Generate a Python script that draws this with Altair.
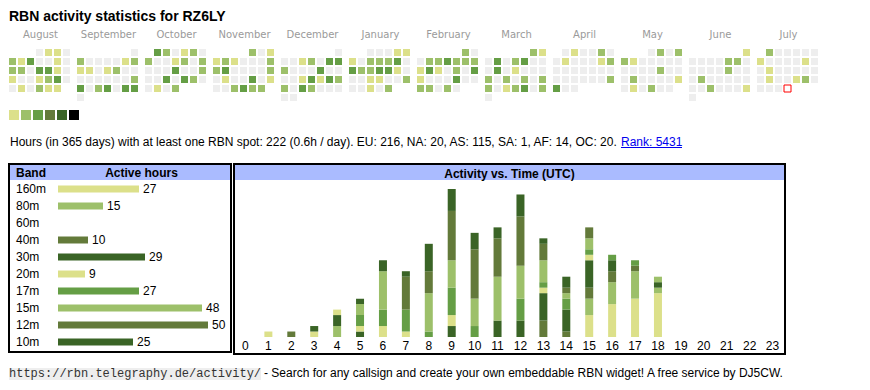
import datetime as dt
import altair as alt
import pandas as pd

# ---------------- data ----------------
title_text = "RBN activity statistics for RZ6LY"

months = ["August", "September", "October", "November", "December", "January",
          "February", "March", "April", "May", "June", "July"]
month_years = [2024, 2024, 2024, 2024, 2024, 2025, 2025, 2025, 2025, 2025, 2025, 2025]
month_numbers = [8, 9, 10, 11, 12, 1, 2, 3, 4, 5, 6, 7]

# daily activity level per month (0 = none, 1..3 = increasing activity), week rows
lv_aug = "0110" "2130010" "2203310" "1001230" "010211"
lv_sep = "0" "2000012" "1101200" "0000002" "3023033" "0"
lv_oct = "320120" "2001202" "0003002" "0030320" "0102"
lv_nov = "201" "1210002" "2300002" "0100301" "002322"
lv_dec = "0" "0012033" "2000300" "0013132" "2032000" "00"
lv_jan = "00011" "1022230" "3223310" "0011002" "00102"
lv_feb = "20" "0223222" "1310203" "1000300" "22020"
lv_mar = "21" "0302300" "0301000" "2020202" "2012302" "0"
lv_apr = "010020" "0100012" "0000000" "0000002" "300"
lv_may = "0202" "2100000" "0000200" "0200001" "010200"
lv_jun = "1" "0000220" "0000200" "0200000" "0020001" "0"
lv_jul = "200000" "1000010" "0100000" "0100120" "0000"
today = dt.date(2025, 7, 31)

level_keys = ["0", "1", "2", "3"]
level_colors = ["#eeeeee", "#dce08a", "#9dc06a", "#659e45"]
legend_levels = [1, 2, 3, 4, 5, 6]
legend_colors = ["#dce08a", "#9dc06a", "#659e45", "#637a3a", "#3a6426", "#000000"]

summary_text = ("Hours (in 365 days) with at least one RBN spot: 222 (0.6h / day). "
                "EU: 216, NA: 20, AS: 115, SA: 1, AF: 14, OC: 20.")
rank_text = "Rank: 5431"

bands = ["160m", "80m", "60m", "40m", "30m", "20m", "17m", "15m", "12m", "10m"]
band_hours = [27, 15, 0, 10, 29, 9, 27, 48, 50, 25]
band_colors = ["#dce08a", "#9dc06a", "#659e45", "#637a3a", "#3a6426",
               "#dce08a", "#659e45", "#9dc06a", "#637a3a", "#3a6426"]

hours = list(range(24))
h160 = [0, 1, 0, 1, 0, 0, 0, 0, 0, 0, 0, 0, 0, 0, 0, 4, 6, 7, 8, 0, 0, 0, 0, 0]
h80 = [0, 0, 0, 0, 2, 0, 0, 0, 0, 0, 0, 0, 0, 0, 0, 3, 4, 5, 1, 0, 0, 0, 0, 0]
h60 = [0, 0, 0, 0, 0, 0, 0, 0, 0, 0, 0, 0, 0, 0, 0, 0, 0, 0, 0, 0, 0, 0, 0, 0]
h40 = [0, 0, 1, 0, 0, 0, 0, 0, 0, 0, 0, 0, 0, 3, 1, 2, 2, 1, 0, 0, 0, 0, 0, 0]
h30 = [0, 0, 0, 1, 2, 1, 0, 0, 0, 2, 0, 3, 3, 5, 4, 5, 2, 0, 1, 0, 0, 0, 0, 0]
h20 = [0, 0, 0, 0, 1, 1, 2, 1, 0, 2, 0, 0, 0, 1, 0, 1, 0, 0, 0, 0, 0, 0, 0, 0]
h17 = [0, 0, 0, 0, 0, 2, 3, 4, 1, 5, 2, 0, 4, 1, 2, 1, 1, 1, 0, 0, 0, 0, 0, 0]
h15 = [0, 0, 0, 0, 0, 2, 7, 0, 7, 5, 5, 8, 6, 4, 1, 2, 0, 0, 1, 0, 0, 0, 0, 0]
h12 = [0, 0, 0, 0, 0, 0, 0, 6, 4, 9, 9, 7, 9, 3, 1, 2, 0, 0, 0, 0, 0, 0, 0, 0]
h10 = [0, 0, 0, 0, 0, 1, 2, 1, 5, 4, 3, 2, 4, 1, 2, 0, 0, 0, 0, 0, 0, 0, 0, 0]
hourly = [h160, h80, h60, h40, h30, h20, h17, h15, h12, h10]

footer_url = "https://rbn.telegraphy.de/activity/"
footer_text = "- Search for any callsign and create your own embeddable RBN widget! A free service by DJ5CW."

# ---------------- tables ----------------
FONT = "Liberation Sans"
month_levels = [lv_aug, lv_sep, lv_oct, lv_nov, lv_dec, lv_jan,
                lv_feb, lv_mar, lv_apr, lv_may, lv_jun, lv_jul]
cal_rows = []
for mi, (name, yy, mm, s) in enumerate(zip(months, month_years, month_numbers, month_levels)):
    off = dt.date(yy, mm, 1).weekday()
    for d, ch in enumerate(s, start=1):
        date = dt.date(yy, mm, d)
        cal_rows.append(dict(mi=mi, month=name, col=date.weekday(), row=(d - 1 + off) // 7,
                             lvl=ch, today=(date == today)))
cal_df = pd.DataFrame(cal_rows)
month_df = pd.DataFrame({"mi": list(range(len(months))), "month": months})

band_df = pd.DataFrame({"band": bands, "hours": band_hours, "bi": list(range(len(bands)))})
act_rows = []
for bi, (b, vals) in enumerate(zip(bands, hourly)):
    for h, v in zip(hours, vals):
        if v > 0:
            act_rows.append(dict(band=b, bi=bi, hour=h, hours=v))
act_df = pd.DataFrame(act_rows)
hour_df = pd.DataFrame({"hour": hours})
one = pd.DataFrame({"a": [0]})

# ---------------- title ----------------
title_chart = alt.Chart(pd.DataFrame({"t": [title_text]})).mark_text(
    font=FONT, fontSize=14, fontWeight="bold", align="left", baseline="alphabetic", color="black"
).encode(x=alt.value(0), y=alt.value(13), text="t:N").properties(width=776, height=16)

# ---------------- month labels ----------------
month_labels = alt.Chart(month_df).mark_text(
    font="DejaVu Sans", fontSize=10, color="#9a9a9a", baseline="middle", align="center"
).encode(
    x=alt.X("mi:O", axis=None,
            scale=alt.Scale(domain=list(range(12)), range=[-2.5, 813.5], paddingInner=0, paddingOuter=0)),
    y=alt.value(11),
    text="month:N",
).properties(width=811, height=25)

# ---------------- calendar ----------------
cx = alt.X("col:O", axis=None,
           scale=alt.Scale(domain=list(range(7)), paddingInner=2 / 9, paddingOuter=1 / 9, align=0))
cy = alt.Y("row:O", axis=None,
           scale=alt.Scale(domain=list(range(6)), paddingInner=2 / 9, paddingOuter=1 / 9, align=0))
cells = alt.Chart().mark_rect().encode(
    x=cx, y=cy,
    color=alt.Color("lvl:N", scale=alt.Scale(domain=level_keys, range=level_colors), legend=None),
)
today_cell = alt.Chart().transform_filter("datum.today").mark_rect(
    fill="white", stroke="#ff0000", strokeWidth=1
).encode(x=cx, y=cy)

calendar = alt.layer(cells, today_cell, data=cal_df).properties(
    width=63, height=54
).facet(
    column=alt.Column("mi:O", title=None, header=alt.Header(labels=False)),
    spacing=5,
)

# ---------------- legend + summary line ----------------
leg_df = pd.DataFrame({"lv": legend_levels})
legend = alt.Chart(leg_df).mark_rect().encode(
    x=alt.X("lv:O", axis=None,
            scale=alt.Scale(domain=legend_levels, range=[0, 72], paddingInner=2 / 12,
                            paddingOuter=1 / 12, align=0)),
    y=alt.value(7), y2=alt.value(17),
    color=alt.Color("lv:O", scale=alt.Scale(domain=legend_levels, range=legend_colors), legend=None),
)
summary = alt.Chart(pd.DataFrame({"t": [summary_text]})).mark_text(
    font=FONT, fontSize=12, align="left", baseline="alphabetic", color="black"
).encode(x=alt.value(1), y=alt.value(43), text="t:N")
rank = alt.Chart(pd.DataFrame({"t": [rank_text]})).mark_text(
    font=FONT, fontSize=12, align="left", baseline="alphabetic", color="#0000ee"
).encode(x=alt.value(612), y=alt.value(43), text="t:N")
rank_ul = alt.Chart(one).mark_rule(color="#0000ee", strokeWidth=1).encode(
    x=alt.value(612), x2=alt.value(673), y=alt.value(44.5))
middle = alt.layer(legend, summary, rank, rank_ul).properties(width=776, height=60)

# ---------------- band table ----------------
BW, BH = 222, 188
by = alt.Y("band:N", axis=None, sort=bands,
           scale=alt.Scale(domain=bands, range=[16.5, 186.5], paddingInner=0, paddingOuter=0))
bx = alt.X("hours:Q", axis=None, scale=alt.Scale(domain=[0, 50], range=[49, 199], nice=False))
b_head = alt.Chart(one).mark_rect(color="#aabbff").encode(
    x=alt.value(1), x2=alt.value(BW - 1), y=alt.value(1), y2=alt.value(16))
b_head_t1 = alt.Chart(pd.DataFrame({"t": ["Band"]})).mark_text(
    font=FONT, fontSize=12, fontWeight="bold", align="left", baseline="middle"
).encode(x=alt.value(7), y=alt.value(9), text="t:N")
b_head_t2 = alt.Chart(pd.DataFrame({"t": ["Active hours"]})).mark_text(
    font=FONT, fontSize=12, fontWeight="bold", align="center", baseline="middle"
).encode(x=alt.value(132.5), y=alt.value(9), text="t:N")
b_lbl = alt.Chart(band_df).mark_text(font=FONT, fontSize=12, align="left", baseline="middle").encode(
    x=alt.value(7), y=by, text="band:N")
b_bar = alt.Chart(band_df).transform_filter("datum.hours > 0").mark_bar(size=7).encode(
    x=bx, y=by,
    color=alt.Color("band:N", scale=alt.Scale(domain=bands, range=band_colors), legend=None))
b_val = alt.Chart(band_df).transform_filter("datum.hours > 0").mark_text(
    font=FONT, fontSize=12, align="left", baseline="middle", dx=4).encode(
    x=bx, y=by, text="hours:Q")
band_panel = alt.layer(b_head, b_head_t1, b_head_t2, b_lbl, b_bar, b_val).properties(
    width=BW, height=BH, view=alt.ViewBackground(stroke="black", strokeWidth=2))

# ---------------- activity vs time ----------------
AW, AH = 551, 190
ax = alt.X("hour:O", axis=None,
           scale=alt.Scale(domain=hours, range=[0, 550], paddingInner=0, paddingOuter=0))
a_head = alt.Chart(one).mark_rect(color="#aabbff").encode(
    x=alt.value(1), x2=alt.value(AW - 1), y=alt.value(1), y2=alt.value(16))
a_head_t = alt.Chart(pd.DataFrame({"t": ["Activity vs. Time (UTC)"]})).mark_text(
    font=FONT, fontSize=12, fontWeight="bold", align="center", baseline="middle"
).encode(x=alt.value(AW / 2), y=alt.value(9.5), text="t:N")
a_bar = alt.Chart(act_df).mark_bar(size=8).encode(
    x=ax,
    y=alt.Y("hours:Q", stack="zero", axis=None,
            scale=alt.Scale(domain=[0, 27], range=[173, 25], nice=False)),
    color=alt.Color("band:N", scale=alt.Scale(domain=bands, range=band_colors), legend=None),
    order=alt.Order("bi:Q", sort="ascending"),
)
a_lbl = alt.Chart(hour_df).mark_text(font=FONT, fontSize=12, baseline="middle").encode(
    x=ax, y=alt.value(182), text="hour:O")
act_panel = alt.layer(a_head, a_head_t, a_bar, a_lbl).properties(
    width=AW, height=AH, view=alt.ViewBackground(stroke="black", strokeWidth=2))

panels = alt.hconcat(band_panel, act_panel, spacing=1).resolve_scale(color="independent")

# ---------------- footer ----------------
f_bg = alt.Chart(one).mark_rect(color="#eeeeee").encode(
    x=alt.value(0), x2=alt.value(252), y=alt.value(13), y2=alt.value(25))
f_url = alt.Chart(pd.DataFrame({"t": [footer_url]})).mark_text(
    font="Liberation Mono", fontSize=12, align="left", baseline="alphabetic", color="#333333"
).encode(x=alt.value(0), y=alt.value(22), text="t:N")
f_txt = alt.Chart(pd.DataFrame({"t": [footer_text]})).mark_text(
    font=FONT, fontSize=12, align="left", baseline="alphabetic", color="black"
).encode(x=alt.value(255), y=alt.value(22), text="t:N")
footer = alt.layer(f_bg, f_url, f_txt).properties(width=776, height=30)

chart = alt.vconcat(title_chart, month_labels, calendar, middle, panels, footer, spacing=0).resolve_scale(
    color="independent", x="independent", y="independent"
).properties(padding=0).configure_view(stroke=None).configure_concat(spacing=0)

chart.save("out.html", embed_options={"renderer": "svg", "actions": False})
